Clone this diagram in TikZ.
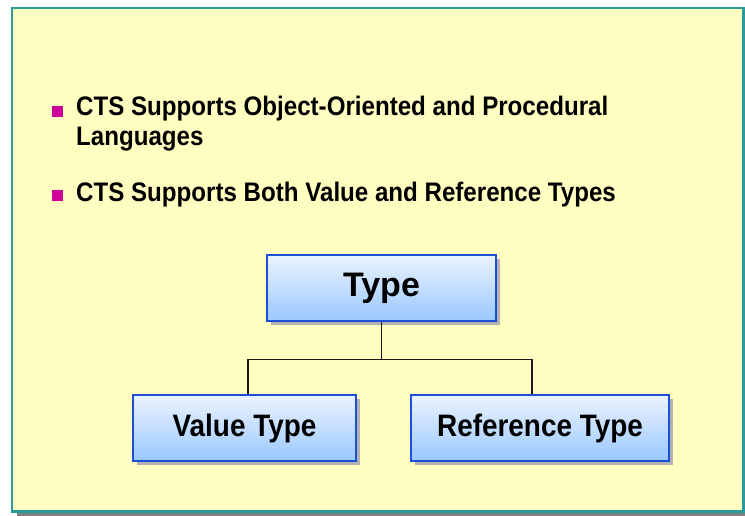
\documentclass[tikz,border=0pt]{standalone}
\usepackage{fontspec}
\setmainfont{Liberation Sans}
\newfontfamily\boxfont[FakeStretch=0.9]{Liberation Sans}
\usetikzlibrary{shadows}
\definecolor{panelfill}{HTML}{FFFDC0}
\definecolor{panelline}{HTML}{2A9A9A}
\definecolor{boxline}{HTML}{1A4FD6}
\definecolor{boxtop}{HTML}{ECF3FF}
\definecolor{boxbottom}{HTML}{99C8FF}
\definecolor{bulletc}{HTML}{CC0099}
\tikzset{
  typebox/.style={draw=boxline, line width=1.6pt, top color=boxtop, bottom color=boxbottom,
    inner sep=0pt, align=center,
    drop shadow={shadow xshift=4pt, shadow yshift=-4pt, fill=black!30, opacity=1}},
  bullettext/.style={anchor=base west, inner sep=0pt, font=\boxfont\fontsize{26.8}{30}\selectfont\bfseries},
  bulletmark/.style={fill=bulletc, minimum size=11pt, inner sep=0pt},
  link/.style={line width=1.3pt, draw=black!90}
}
\begin{document}
\begin{tikzpicture}[x=1pt,y=-1pt]
\useasboundingbox (0,0) rectangle (745,516);
% panel
\fill[black!50] (17,509) rectangle (745,516);
\draw[panelline, fill=panelfill, line width=2.4pt] (12,8) rectangle (743.5,511.5);
% bullets
\node[bulletmark] (b1) at (57,111.5) {};
\node[bullettext] (t1) at (76,116) {CTS Supports Object-Oriented and Procedural};
\node[bullettext] (t1b) at (76,146) {Languages};
\node[bulletmark] (b2) at (57,196) {};
\node[bullettext] (t2) at (76,201) {CTS Supports Both Value and Reference Types};
% boxes
\node[typebox, minimum width=229pt, minimum height=66pt, font=\fontsize{34}{40}\selectfont\bfseries] (type) at (381.5,288) {Type};
\node[typebox, minimum width=223pt, minimum height=66pt, font=\boxfont\fontsize{31}{36}\selectfont\bfseries] (value) at (244.5,428) {Value Type};
\node[typebox, minimum width=258pt, minimum height=66pt, font=\boxfont\fontsize{31}{36}\selectfont\bfseries] (ref) at (540,428) {Reference Type};
% connectors
\draw[link] (type.south) -- ++(0,38) coordinate (j);
\draw[link] ([xshift=3.5pt]value.north) |- (j) -| ([xshift=-8pt]ref.north);
\end{tikzpicture}
\end{document}
